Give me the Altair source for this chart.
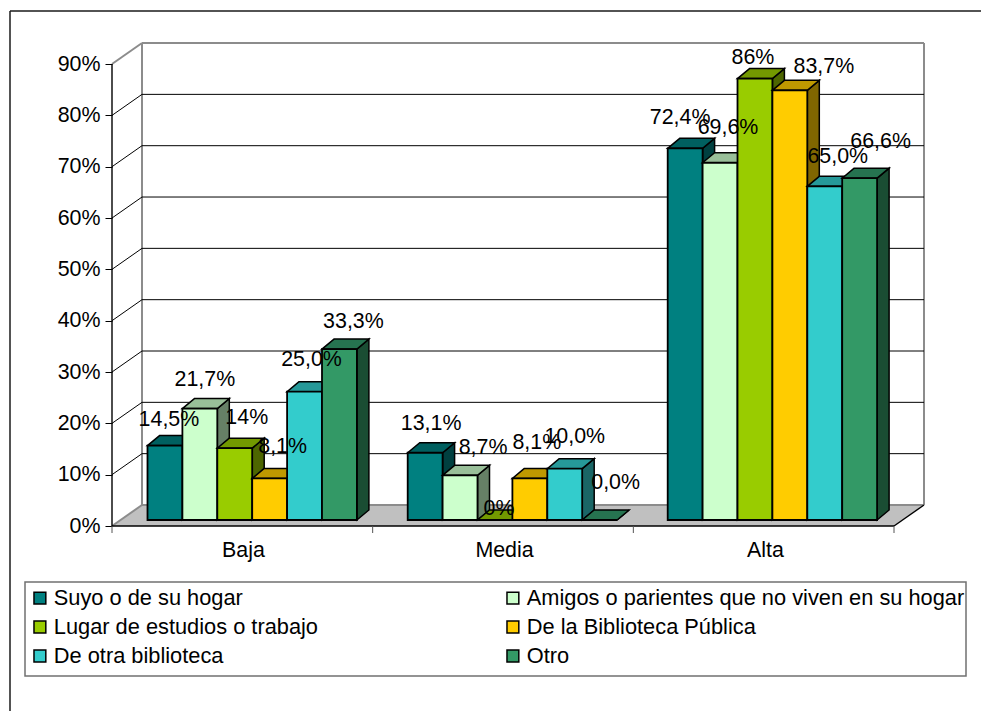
import altair as alt
import pandas as pd

# Survey shares by level (Baja / Media / Alta) and source of the material
categories = ["Baja", "Media", "Alta"]
series = [
    "Suyo o de su hogar",
    "Amigos o parientes que no viven en su hogar",
    "Lugar de estudios o trabajo",
    "De la Biblioteca Pública",
    "De otra biblioteca",
    "Otro",
]
values = {
    "Suyo o de su hogar": [14.5, 13.1, 72.4],
    "Amigos o parientes que no viven en su hogar": [21.7, 8.7, 69.6],
    "Lugar de estudios o trabajo": [14, 0, 86],
    "De la Biblioteca Pública": [8.1, 8.1, 83.7],
    "De otra biblioteca": [25.0, 10.0, 65.0],
    "Otro": [33.3, 0.0, 66.6],
}
value_labels = {
    "Suyo o de su hogar": ["14,5%", "13,1%", "72,4%"],
    "Amigos o parientes que no viven en su hogar": ["21,7%", "8,7%", "69,6%"],
    "Lugar de estudios o trabajo": ["14%", "0%", "86%"],
    "De la Biblioteca Pública": ["8,1%", "8,1%", "83,7%"],
    "De otra biblioteca": ["25,0%", "10,0%", "65,0%"],
    "Otro": ["33,3%", "0,0%", "66,6%"],
}
front_colors = ["#008080", "#CCFFCC", "#99CC00", "#FFCC00", "#33CCCC", "#339966"]
top_colors = ["#006060", "#99BF99", "#739900", "#BF9900", "#269999", "#267350"]
side_colors = ["#004040", "#668066", "#4D6600", "#806600", "#1A6666", "#1A4D33"]

# Hand placement of each value label relative to its column: sideways, and above the top
label_shift_x = {
    "Suyo o de su hogar": [4, 6, -5],
    "Amigos o parientes que no viven en su hogar": [5, 23, 8],
    "Lugar de estudios o trabajo": [12, 4, -2],
    "De la Biblioteca Pública": [13, 7, 34],
    "De otra biblioteca": [7, 10, 13],
    "Otro": [14, 16, 21],
}
label_rise = {
    "Suyo o de su hogar": [26, 29, 30],
    "Amigos o parientes que no viven en su hogar": [29, 27, 35],
    "Lugar de estudios o trabajo": [30, 11, 21],
    "De la Biblioteca Pública": [31, 35, 23],
    "De otra biblioteca": [32, 32, 29],
    "Otro": [27, 37, 36],
}

# Pseudo-3D geometry: the x scale runs in screen pixels, the y scale in percent
PLOT_W, PLOT_H = 812, 483
FLOOR_W = 782
PX_PER_PCT = 5.133
WALL_DX, WALL_DY = 30, 21 / PX_PER_PCT
BAR_DX, BAR_DY = 12, 10 / PX_PER_PCT
BAR_BASE = 6 / PX_PER_PCT
BAR_W = 34.9
GROUP_STARTS = [35.5, 295.7, 555.7]
CATEGORY_CENTERS = [131, 392, 653]
AXIS_TICKS = [0, 260.67, 521.33, 782]
PCT_TICKS = list(range(0, 100, 10))
FONT = "Liberation Sans"
TEXT_SIZE = 21.4

x_scale = alt.Scale(domain=[0, PLOT_W], nice=False, zero=False)
y_scale = alt.Scale(domain=[0, PLOT_H / PX_PER_PCT], nice=False, zero=False)

labels_expr = "".join(
    f"datum.value == {c} ? '{n}' : " for c, n in zip(CATEGORY_CENTERS, categories)
) + "''"
x_axis = alt.Axis(
    title=None, grid=False, domain=False, ticks=False, values=CATEGORY_CENTERS,
    labelExpr=labels_expr, labelFont=FONT, labelFontSize=TEXT_SIZE, labelColor="#000000",
    labelPadding=13, labelFlush=False, labelOverlap=False,
)
y_axis = alt.Axis(
    title=None, grid=False, domain=False, values=PCT_TICKS, tickSize=7,
    tickColor="#000000", tickWidth=1, labelExpr="datum.value + '%'", labelFont=FONT,
    labelFontSize=TEXT_SIZE, labelColor="#000000", labelPadding=5,
)


def X(field="x"):
    return alt.X(f"{field}:Q", scale=x_scale, axis=x_axis)


def Y(field="y"):
    return alt.Y(f"{field}:Q", scale=y_scale, axis=y_axis)


def segments(rows, color, width):
    frame = pd.DataFrame(rows, columns=["x", "y", "x2", "y2"])
    return alt.Chart(frame).mark_rule(color=color, strokeWidth=width).encode(
        x=X(), y=Y(), x2="x2:Q", y2="y2:Q"
    )


# Floor, walls and gridlines
floor = alt.Chart(
    pd.DataFrame({"x": [0, WALL_DX], "x2": [FLOOR_W, FLOOR_W + WALL_DX], "y": [0, WALL_DY]})
).mark_area(orient="horizontal", color="#C0C0C0").encode(x=X(), x2="x2:Q", y=Y())

grid_pcts = PCT_TICKS[1:-1]
grid_back = segments(
    [[WALL_DX, p + WALL_DY, PLOT_W, p + WALL_DY] for p in grid_pcts], "#000000", 1
)
grid_side = segments([[0, p, WALL_DX, p + WALL_DY] for p in grid_pcts], "#000000", 1)
top_pct = PCT_TICKS[-1]
wall_edges = segments(
    [
        [0, top_pct, WALL_DX, top_pct + WALL_DY],
        [WALL_DX, WALL_DY, WALL_DX, top_pct + WALL_DY],
        [WALL_DX, top_pct + WALL_DY, PLOT_W, top_pct + WALL_DY],
        [PLOT_W, WALL_DY, PLOT_W, top_pct + WALL_DY],
        [WALL_DX, WALL_DY, PLOT_W, WALL_DY],
        [0, 0, WALL_DX, WALL_DY],
    ],
    "#8C8C8C",
    2,
)
front_edges = segments(
    [[0, 0, 0, top_pct], [0, 0, FLOOR_W, 0], [FLOOR_W, 0, FLOOR_W + WALL_DX, WALL_DY]],
    "#000000",
    1.4,
)
x_ticks = segments([[t, 0, t, -7 / PX_PER_PCT] for t in AXIS_TICKS], "#555555", 1)

# White panel behind the legend entries
panel_row = pd.DataFrame({"k": [0]})
legend_panel = alt.Chart(panel_row).mark_rect(
    fill="#FFFFFF", stroke="#707070", strokeWidth=1.5
).encode(x=alt.value(-87), x2=alt.value(854), y=alt.value(539), y2=alt.value(633))

layers = [floor, wall_edges, grid_back, grid_side, front_edges, x_ticks, legend_panel]

# Columns are painted series by series so that each one overlaps its left neighbour
fill = alt.Fill(
    "serie:N",
    scale=alt.Scale(domain=series, range=front_colors),
    legend=alt.Legend(
        title=None, orient="none", legendX=-91, legendY=538, columns=2, direction="horizontal",
        padding=8, rowPadding=7, columnPadding=184, zindex=1,
        labelFont=FONT, labelFontSize=21.8, labelColor="#000000", labelLimit=600,
        symbolType="square", symbolSize=140, symbolStrokeColor="#000000", symbolStrokeWidth=1.5,
        labelOffset=3, clipHeight=18,
    ),
)
for i, name in enumerate(series):
    front, top, side = [], [], []
    for g, (cat, start, v) in enumerate(zip(categories, GROUP_STARTS, values[name])):
        x0 = start + i * BAR_W
        x1 = x0 + BAR_W
        h = BAR_BASE + v
        front.append({"cat": cat, "serie": name, "x": x0, "x2": x1, "y": BAR_BASE, "y2": h})
        top += [
            {"cat": cat, "x": x0, "x2": x1, "y": h},
            {"cat": cat, "x": x0 + BAR_DX, "x2": x1 + BAR_DX, "y": h + BAR_DY},
        ]
        side += [
            {"cat": cat, "x": x1, "y": BAR_BASE, "y2": h},
            {"cat": cat, "x": x1 + BAR_DX, "y": BAR_BASE + BAR_DY, "y2": h + BAR_DY},
        ]
    layers.append(
        alt.Chart(pd.DataFrame(side))
        .mark_area(orient="vertical", color=side_colors[i], stroke="#000000", strokeWidth=1.5)
        .encode(x=X(), y=Y(), y2="y2:Q", detail="cat:N")
    )
    layers.append(
        alt.Chart(pd.DataFrame(top))
        .mark_area(orient="horizontal", color=top_colors[i], stroke="#000000", strokeWidth=1.5)
        .encode(x=X(), x2="x2:Q", y=Y(), detail="cat:N")
    )
    layers.append(
        alt.Chart(pd.DataFrame(front))
        .mark_rect(stroke="#000000", strokeWidth=1.8)
        .encode(x=X(), x2="x2:Q", y=Y(), y2="y2:Q", fill=fill)
    )

# Value labels sit above all the columns
label_rows = []
for i, name in enumerate(series):
    for g, start in enumerate(GROUP_STARTS):
        label_rows.append(
            {
                "x": start + (i + 0.5) * BAR_W + label_shift_x[name][g],
                "y": BAR_BASE + values[name][g] + label_rise[name][g] / PX_PER_PCT,
                "text": value_labels[name][g],
            }
        )
layers.append(
    alt.Chart(pd.DataFrame(label_rows))
    .mark_text(font=FONT, fontSize=TEXT_SIZE, color="#000000", align="center", baseline="middle")
    .encode(x=X(), y=Y(), text="text:N")
)

# Outer frame, open towards the right and bottom page edges
frame_line = pd.DataFrame({"k": [0]})
layers.append(
    alt.Chart(frame_line)
    .mark_rule(color="#1A1A1A", strokeWidth=1.5)
    .encode(x=alt.value(-102), x2=alt.value(869), y=alt.value(-32))
)
layers.append(
    alt.Chart(frame_line)
    .mark_rule(color="#1A1A1A", strokeWidth=1.5)
    .encode(x=alt.value(-102), y=alt.value(-32), y2=alt.value(668))
)

chart = (
    alt.layer(*layers)
    .properties(
        width=PLOT_W,
        height=PLOT_H,
        autosize=alt.AutoSizeParams(type="none"),
        padding={"left": 112, "top": 43, "right": 57, "bottom": 185},
        background="#FFFFFF",
    )
    .configure_view(stroke=None)
)

chart.save("out.html", embed_options={"renderer": "svg", "actions": False})
